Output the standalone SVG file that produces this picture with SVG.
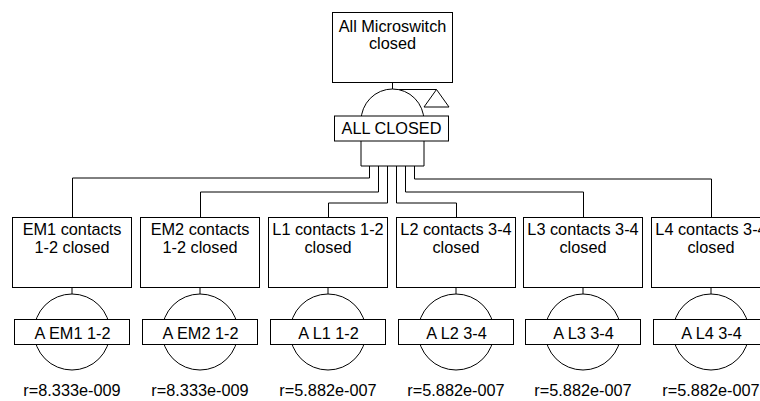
<svg xmlns="http://www.w3.org/2000/svg" width="760" height="401" viewBox="0 0 760 401">
  <style>
    .box { fill: #fff; stroke: #000; stroke-width: 1; }
    .wire { fill: none; stroke: #000; stroke-width: 1; }
    text { font-family: "Liberation Sans", Arial, sans-serif; font-size: 16.3px; fill: #000; text-anchor: middle; }
  </style>
  <defs>
    <!-- basic event: description box, link stub, circle with label box, rate -->
    <g id="evt">
      <rect class="box" x="-59.5" y="217.5" width="119" height="70"/>
      <line class="wire" x1="0" y1="287.5" x2="0" y2="294"/>
      <circle class="box" cx="0" cy="332" r="38"/>
      <rect class="box" x="-57.5" y="319.5" width="115" height="25"/>
    </g>
  </defs>
  <rect width="760" height="401" fill="#fff"/>

  <!-- connectors from the AND gate to each input -->
  <g id="connectors" class="wire">
    <path d="M392.5,83 V89.5 H436.5"/>
    <path d="M369.5,166 V178 H72.5 V217.5"/>
    <path d="M378.5,166 V192 H200.5 V217.5"/>
    <path d="M387.5,166 V203 H328.5 V217.5"/>
    <path d="M396.5,166 V203 H456.5 V217.5"/>
    <path d="M405.5,166 V192 H583.5 V217.5"/>
    <path d="M414.5,166 V179 H711.5 V217.5"/>
  </g>

  <!-- top event -->
  <g id="top">
    <rect class="box" x="332.5" y="12.5" width="120" height="70"/>
    <text x="392.5" y="31.7">All Microswitch</text>
    <text x="392.5" y="48.5">closed</text>
  </g>

  <!-- AND gate with transfer triangle -->
  <g id="gate-all-closed">
    <path class="box" d="M361,166 V121 A31.5,32 0 0 1 424,121 V166 Z"/>
    <path class="box" d="M424,107 L436.5,89.5 L449,107 Z"/>
    <rect class="box" x="334.5" y="116" width="114" height="25"/>
    <text x="391.5" y="134.3">ALL CLOSED</text>
  </g>

  <g id="em1">
    <use href="#evt" x="72"/>
    <text x="72" y="235">EM1 contacts</text>
    <text x="72" y="252.7">1-2 closed</text>
    <text x="72.5" y="339">A EM1 1-2</text>
    <text x="72" y="395.5">r=8.333e-009</text>
  </g>
  <g id="em2">
    <use href="#evt" x="200"/>
    <text x="200" y="235">EM2 contacts</text>
    <text x="200" y="252.7">1-2 closed</text>
    <text x="200.5" y="339">A EM2 1-2</text>
    <text x="200" y="395.5">r=8.333e-009</text>
  </g>
  <g id="l1">
    <use href="#evt" x="328"/>
    <text x="328" y="235">L1 contacts 1-2</text>
    <text x="328" y="252.7">closed</text>
    <text x="328.5" y="339">A L1 1-2</text>
    <text x="328" y="395.5">r=5.882e-007</text>
  </g>
  <g id="l2">
    <use href="#evt" x="456"/>
    <text x="456" y="235">L2 contacts 3-4</text>
    <text x="456" y="252.7">closed</text>
    <text x="456.5" y="339">A L2 3-4</text>
    <text x="456" y="395.5">r=5.882e-007</text>
  </g>
  <g id="l3">
    <use href="#evt" x="583"/>
    <text x="583" y="235">L3 contacts 3-4</text>
    <text x="583" y="252.7">closed</text>
    <text x="583.5" y="339">A L3 3-4</text>
    <text x="583" y="395.5">r=5.882e-007</text>
  </g>
  <g id="l4">
    <use href="#evt" x="711"/>
    <text x="711" y="235">L4 contacts 3-4</text>
    <text x="711" y="252.7">closed</text>
    <text x="711.5" y="339">A L4 3-4</text>
    <text x="711" y="395.5">r=5.882e-007</text>
  </g>
</svg>
